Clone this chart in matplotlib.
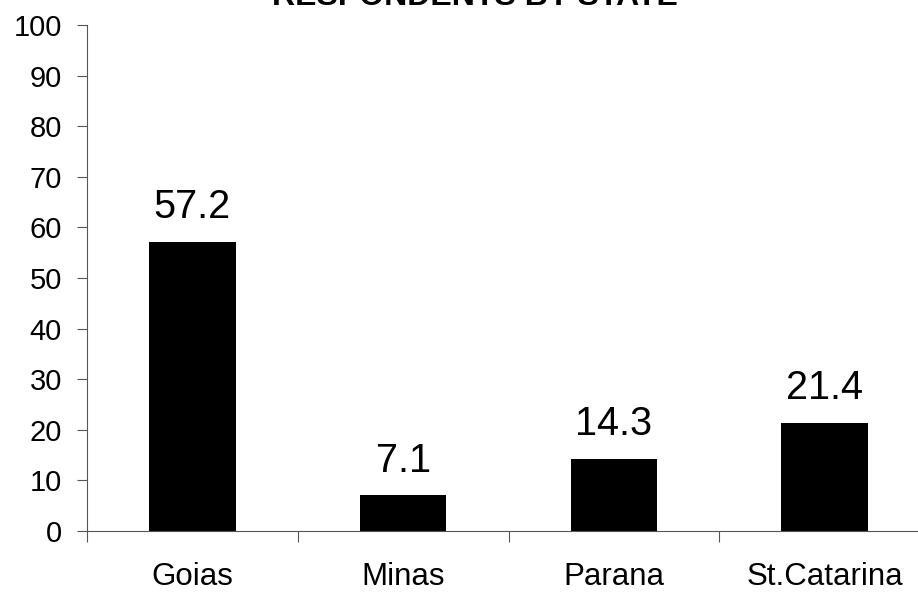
import matplotlib
matplotlib.use("Agg")
import matplotlib.pyplot as plt
import numpy as np

plt.rcParams["font.family"] = ["Liberation Sans", "DejaVu Sans"]

# data
states = ["Goias", "Minas", "Parana", "St.Catarina"]
percent = [57.2, 7.1, 14.3, 21.4]
yticks = [0, 10, 20, 30, 40, 50, 60, 70, 80, 90, 100]
title = "RESPONDENTS BY STATE"

W, H = 918, 594
fig = plt.figure(figsize=(W / 100, H / 100), dpi=100)

# plot area runs past the right edge, like the original export
left, right, bottom, top = 87, 930, 531, 25
ax = fig.add_axes([left / W, 1 - bottom / H, (right - left) / W, (bottom - top) / H])

x = np.arange(len(states))
bars = ax.bar(x, percent, width=0.41, color="black")

for xi, v in zip(x, percent):
    ax.annotate(f"{v}", (xi, v), xytext=(0, 11), textcoords="offset points",
                ha="center", va="bottom", fontsize=28.5)

ax.set_xlim(-0.5, len(states) - 0.5)
ax.set_ylim(0, 100)
ax.set_yticks(yticks)
ax.set_xticks(x)
ax.set_xticklabels(states, fontsize=22.5)
ax.set_xticks(np.arange(len(states) + 1) - 0.5, minor=True)

ax.tick_params(axis="y", labelsize=21, length=7, width=0.8, color="#555555", pad=11)
ax.tick_params(axis="x", which="major", length=0, pad=22)
ax.tick_params(axis="x", which="minor", length=8, width=0.8, color="#555555", direction="out")

for side in ["top", "right"]:
    ax.spines[side].set_visible(False)
for side in ["left", "bottom"]:
    ax.spines[side].set_color("#555555")
    ax.spines[side].set_linewidth(0.8)

fig.text(475 / W, 1 - 5 / H, title, ha="center", va="baseline",
         fontsize=23, fontweight="bold")

fig.savefig("out.png", dpi=100)
